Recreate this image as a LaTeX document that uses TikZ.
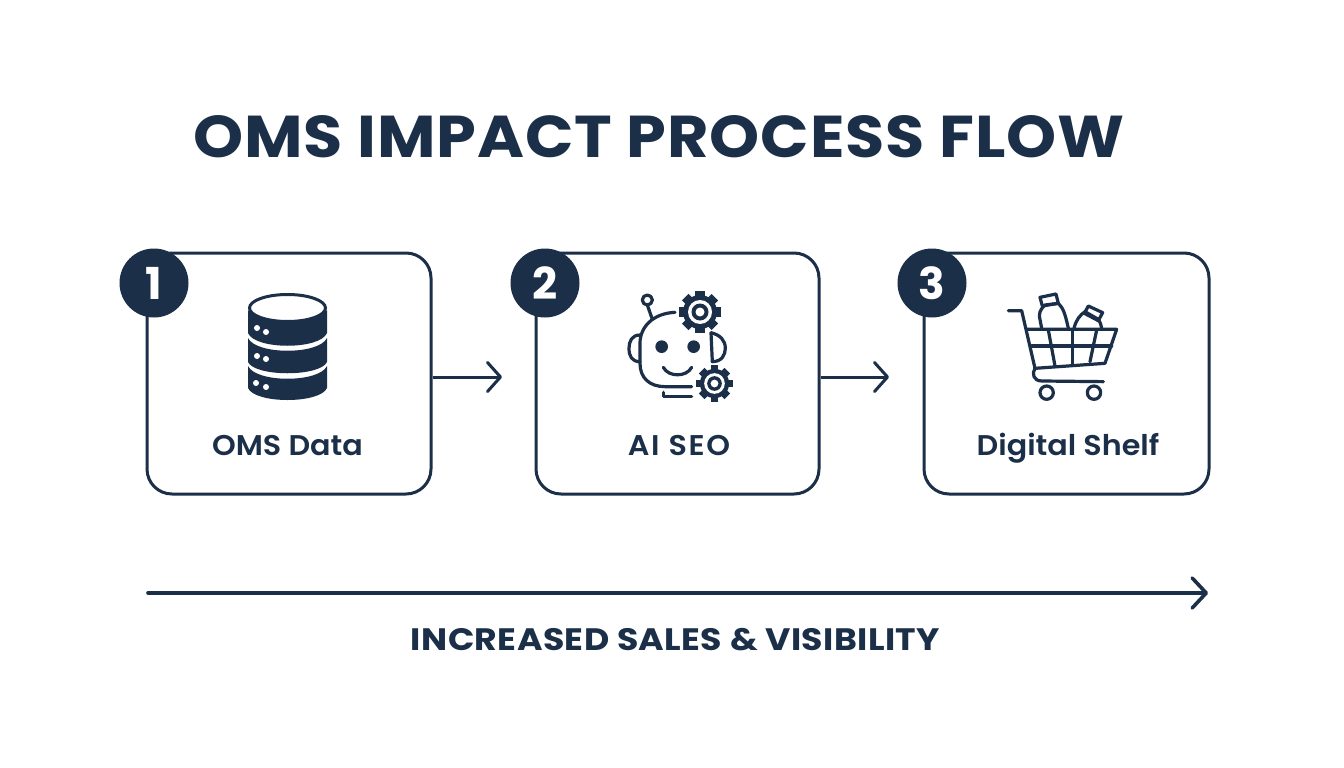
\documentclass[tikz,border=0pt]{standalone}
\usepackage{fontspec}
\setmainfont{Poppins}
\newfontfamily\titlefont{Poppins}[FakeStretch=1.08,LetterSpace=1.6]
\newfontfamily\labelfont{Poppins SemiBold}[FakeStretch=1.06]
\newfontfamily\outfont{Poppins}[FakeStretch=1.12,LetterSpace=1.3]
\usetikzlibrary{arrows.meta}
\definecolor{navy}{HTML}{1B2F49}
\tikzset{
  stepbox/.style={draw=navy,line width=3pt,rounded corners=25pt,fill=white,inner sep=0pt},
  badge/.style={circle,fill=navy,text=white,inner sep=0pt,minimum size=69pt,font=\fontsize{44}{44}\selectfont\bfseries},
  boxlabel/.style={text=navy,inner sep=0pt,anchor=base,font=\fontsize{28.5}{28.5}\labelfont},
  link/.style={draw=navy,line width=3pt,-{Straight Barb[length=13pt,width=29pt,line width=3pt,round]}},
  flow/.style={draw=navy,line width=3.6pt,line cap=round,-{Straight Barb[length=14pt,width=30pt,line width=3.6pt,round]}},
  icon/.style={draw=navy,line width=3.2pt,line cap=round,line join=round},
  gearicon/.pic={
    \foreach \a in {0,45,...,315}{
      \fill[navy,rotate=\a] (-4.6,-21) rectangle (4.6,0);
    }
    \fill[navy] (0,0) circle (17);
    \fill[white] (0,0) circle (12);
    \fill[navy] (0,0) circle (8.5);
    \fill[white] (0,0) circle (4.5);
  }
}
\begin{document}
\begin{tikzpicture}[x=1pt,y=-1pt]
\useasboundingbox (0,0) rectangle (1344,768);
\fill[white] (0,0) rectangle (1344,768);
\node[text=navy,inner sep=0pt,anchor=base,font=\fontsize{59}{59}\titlefont\bfseries] (title) at (659,157) {OMS IMPACT PROCESS FLOW};
% boxes
\node[stepbox,minimum width=284pt,minimum height=241pt] (b1) at (289,373.5) {};
\node[stepbox,minimum width=283pt,minimum height=241pt] (b2) at (677.5,373.5) {};
\node[stepbox,minimum width=285pt,minimum height=241pt] (b3) at (1066.5,373.5) {};
\node[badge] (n1) at (154,283) {1};
\node[badge] (n2) at (545,283) {2};
\node[badge] (n3) at (932,283) {3};
\node[boxlabel] (l1) at (287.5,455) {OMS Data};
\node[boxlabel] (l2) at (679,455) {\addfontfeature{LetterSpace=6}AI SEO};
\node[boxlabel] (l3) at (1068,455) {Digital Shelf};
% connectors
\coordinate (t1) at (502,377);
\coordinate (t2) at (889,377);
\draw[link] (b1.east |- t1) -- (t1);
\draw[link] (b2.east |- t2) -- (t2);
\coordinate (fs) at (148,593);
\coordinate (fe) at (1208,593);
\draw[flow] (fs) -- (fe);
\node[text=navy,inner sep=0pt,anchor=base,font=\fontsize{31}{31}\outfont\bfseries] (out) at (675.5,650) {INCREASED SALES \& VISIBILITY};
% database icon
\fill[navy] (248,310) .. controls (256,325) and (319,325) .. (327,310) -- (327,333) .. controls (320,350) and (255,350) .. (248,333) -- cycle;
\fill[navy] (248,338) .. controls (256,355) and (319,355) .. (327,338) -- (327,362) .. controls (320,377) and (255,377) .. (248,362) -- cycle;
\fill[navy] (248,366) .. controls (256,383) and (319,383) .. (327,366) -- (327,388) .. controls (320,404) and (255,404) .. (248,388) -- cycle;
\draw[navy,line width=3pt,fill=white] (287.5,308) ellipse (38 and 13.5);
\foreach \x/\y in {257/328,266/332,257/356,266/359,256/383,266/387}{
  \fill[white] (\x,\y) circle (3);
}
% robot icon
\begin{scope}[shift={(610,280)},scale=0.3333]
  \draw[icon] (112,60) circle (15);
  \draw[icon] (112,75) -- (127,118);
  \draw[icon] (195,97) .. controls (130,100) and (90,140) .. (90,190) -- (90,250) .. controls (90,295) and (120,320) .. (165,320) -- (245,320);
  \draw[icon] (90,165) .. controls (65,165) and (57,185) .. (57,205) .. controls (57,228) and (65,245) .. (90,245);
  \draw[icon] (303,158) -- (307,245) .. controls (335,245) and (346,225) .. (346,205) .. controls (346,180) and (330,165) .. (303,158);
  \fill[navy] (155,200) circle (19);
  \fill[navy] (251,200) circle (19);
  \draw[icon] (160,262) .. controls (175,292) and (230,292) .. (245,262);
  \draw[icon] (160,337) -- (160,350) -- (245,350);
\end{scope}
\pic at (700,312) {gearicon};
\pic[scale=0.86] at (714.5,383.5) {gearicon};
% cart icon
\begin{scope}[shift={(990,280)},scale=0.3333]
  \draw[icon] (55,92) -- (95,92) -- (135,265);
  \draw[icon] (110,148) -- (380,148) -- (345,250) -- (135,265) .. controls (125,280) and (130,303) .. (155,303) -- (340,305);
  \draw[icon] (125,198) -- (365,198);
  \draw[icon] (175,150) -- (195,258);
  \draw[icon] (248,150) -- (248,255);
  \draw[icon] (320,150) -- (300,245);
  \draw[icon] (170,338) circle (20);
  \draw[icon] (312,338) circle (20);
  \draw[icon] (155,145) -- (148,108) .. controls (148,90) and (160,80) .. (165,75) -- (205,70) .. controls (220,85) and (225,100) .. (235,145);
  \draw[icon] (150,52) -- (198,42) -- (205,70) -- (157,78) -- cycle;
  \draw[icon] (252,145) .. controls (258,120) and (270,105) .. (285,95) -- (325,118) .. controls (332,125) and (332,135) .. (335,145);
  \draw[icon] (295,78) -- (338,98) -- (325,122) -- (283,100) -- cycle;
\end{scope}
\end{tikzpicture}
\end{document}
